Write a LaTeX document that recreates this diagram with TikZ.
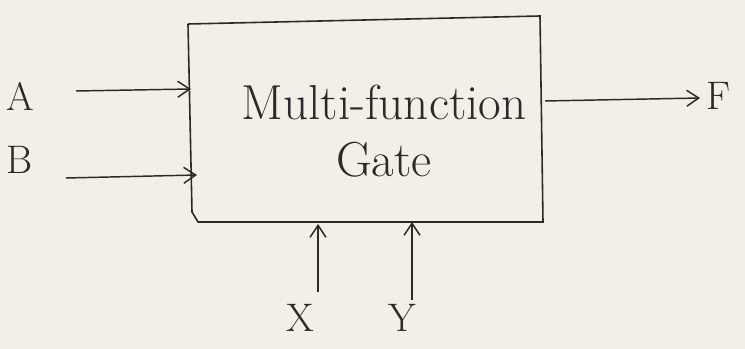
\documentclass[tikz,border=0pt]{standalone}
\usetikzlibrary{arrows.meta}
\definecolor{paper}{HTML}{F3EEE6}
\definecolor{ink}{HTML}{2A2A2A}
\begin{document}
\begin{tikzpicture}[x=0.0264583cm,y=-0.0264583cm,
  wire/.style={draw=ink,line width=1.1pt,-{Straight Barb[length=9pt,width=12pt]}},
  lbl/.style={text=ink,font=\fontsize{30}{34}\selectfont,inner sep=0pt},
  big/.style={text=ink,font=\fontsize{37}{42}\selectfont,inner sep=0pt},
  gatebox/.style={draw=ink,line width=1.2pt}]
\fill[paper] (0,0) rectangle (745,349);
\useasboundingbox (0,0) rectangle (745,349);
% box
\coordinate (tl) at (188,24);
\coordinate (tr) at (540,16);
\coordinate (br) at (543,222);
\coordinate (bl) at (198,222);
\draw[gatebox] (tl) -- (tr) -- (br) -- (bl) -- (192,212) -- (tl);
\node[big] (t1) at (384,102) {Multi-function};
\node[big] (t2) at (384,160) {Gate};
% inputs
\node[lbl] (A) at (20,96) {A};
\node[lbl] (B) at (20,160) {B};
\node[lbl] (F) at (718,96) {F};
\node[lbl] (X) at (300,318) {X};
\node[lbl] (Y) at (402,318) {Y};
\coordinate (a0) at (76,91);
\coordinate (a1) at (191,89);
\coordinate (b0) at (66,178);
\coordinate (b1) at (197,175);
\coordinate (f0) at (545,101);
\coordinate (f1) at (700,98);
\coordinate (x0) at (318,292);
\coordinate (x1) at (318,224);
\coordinate (y0) at (412,300);
\coordinate (y1) at (412,222);
\draw[wire] (a0) -- (a1);
\draw[wire] (b0) -- (b1);
\draw[wire] (f0) -- (f1);
\draw[wire] (x0) -- (x1);
\draw[wire] (y0) -- (y1);
\end{tikzpicture}
\end{document}
